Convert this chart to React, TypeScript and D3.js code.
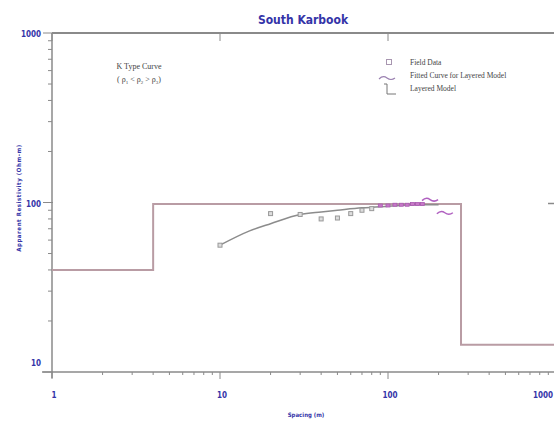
import React from "react";
import * as d3 from "d3";

// field data (spacing m, apparent resistivity ohm-m)
const fieldSpacing = [10, 20, 30, 40, 50, 60, 70, 80];
const fieldRho = [56, 86, 85, 80, 81, 86, 90, 92];

// magenta fitted points near the end of the curve
const fitMarkSpacing = [90, 100, 110, 120, 130, 140, 150, 160];
const fitMarkRho = [96, 96, 97, 97, 97, 98, 98, 98];
const squiggleSpacing = [178, 218];
const squiggleRho = [104, 87];

// fitted curve for layered model
const curveSpacing = [10, 15, 20, 30, 40, 50, 70, 100, 150, 200];
const curveRho = [56, 68, 75, 85, 88, 90, 93, 95, 97, 97];

// layered model: resistivities and layer boundaries
const layerRho = [40, 98, 14.5];
const layerDepth = [1, 4, 272, 1000];

const xTicks = [1, 10, 100, 1000];
const yTicks = [10, 100, 1000];

const W = 554;
const H = 424;
const blue = "#3434a8";
const axisGray = "#8a8a8a";
const modelColor = "#b99ca4";

export default function App() {
  const x = d3.scaleLog().domain([1, 1000]).range([52, 556]);
  const y = d3.scaleLog().domain([10, 1000]).range([372, 33]);

  // step line for the layered model
  const stepPts: [number, number][] = [];
  layerRho.forEach((r, i) => {
    stepPts.push([layerDepth[i], r]);
    stepPts.push([layerDepth[i + 1], r]);
  });
  const lineGen = d3
    .line<[number, number]>()
    .x((d) => x(d[0]))
    .y((d) => y(d[1]));

  const curveGen = d3
    .line<[number, number]>()
    .x((d) => x(d[0]))
    .y((d) => y(d[1]))
    .curve(d3.curveMonotoneX);
  const curvePts = curveSpacing.map((s, i) => [s, curveRho[i]] as [number, number]);

  // minor ticks for each decade
  const xMinor: number[] = [];
  const yMinor: number[] = [];
  [1, 10, 100].forEach((dec) => {
    for (let k = 2; k <= 9; k++) xMinor.push(dec * k);
  });
  [10, 100].forEach((dec) => {
    for (let k = 2; k <= 9; k++) yMinor.push(dec * k);
  });

  const tickFont = "'DejaVu Sans Condensed', 'DejaVu Sans', sans-serif";
  const serif = "'Liberation Serif', 'DejaVu Serif', serif";

  const tilde = (cx: number, cy: number, w: number) =>
    `M${cx - w / 2},${cy + 1} q${w / 4},-4 ${w / 2},-1 t${w / 2},0`;

  return (
    <svg
      width={W}
      height={H}
      style={{ position: "absolute", left: 0, top: 0, background: "#fff" }}
    >
      <defs>
        <clipPath id="plot">
          <rect x={52} y={30} width={W - 52} height={350} />
        </clipPath>
      </defs>

      {/* title */}
      <text
        x={303}
        y={24}
        textAnchor="middle"
        fill={blue}
        fontFamily={tickFont}
        fontWeight="bold"
        fontSize={12}
      >
        South Karbook
      </text>

      {/* frame: top border, left axis, bottom axis */}
      <line x1={52} x2={W} y1={y(1000)} y2={y(1000)} stroke={axisGray} strokeWidth={2} />
      <line x1={52} x2={52} y1={y(1000)} y2={378} stroke={axisGray} strokeWidth={1.5} />
      <line x1={42} x2={W} y1={y(10)} y2={y(10)} stroke={axisGray} strokeWidth={1.5} />

      {/* x ticks */}
      {xMinor.map((v) => (
        <line key={"xm" + v} x1={x(v)} x2={x(v)} y1={372} y2={375} stroke={axisGray} />
      ))}
      {xTicks.map((v) => (
        <g key={"xt" + v}>
          <line x1={x(v)} x2={x(v)} y1={372} y2={379} stroke={axisGray} />
          <line x1={x(v)} x2={x(v)} y1={y(1000)} y2={y(1000) + 8} stroke={axisGray} />
          <text
            x={x(v) > W ? W - 1 : x(v) + 2}
            y={398}
            textAnchor={x(v) > W ? "end" : "middle"}
            fill={blue}
            fontFamily={tickFont}
            fontWeight="bold"
            fontSize={8}
          >
            {v}
          </text>
        </g>
      ))}

      {/* y ticks */}
      {yMinor.map((v) => (
        <line key={"ym" + v} x1={48} x2={52} y1={y(v)} y2={y(v)} stroke={axisGray} />
      ))}
      {yTicks.map((v) => (
        <g key={"yt" + v}>
          <line x1={43} x2={53} y1={y(v)} y2={y(v)} stroke={axisGray} />
          <text
            x={41}
            y={v === 10 ? y(v) - 6 : y(v) + 4}
            textAnchor="end"
            fill={blue}
            fontFamily={tickFont}
            fontWeight="bold"
            fontSize={8}
          >
            {v}
          </text>
        </g>
      ))}
      <line x1={548} x2={554} y1={y(100) + 1} y2={y(100) + 1} stroke={axisGray} strokeWidth={1.5} />

      {/* axis titles */}
      <text
        transform={`translate(21,198) rotate(-90)`}
        textAnchor="middle"
        fill={blue}
        fontFamily={tickFont}
        fontWeight="bold"
        fontSize={6}
        letterSpacing={0.6}
      >
        Apparent Resistivity (Ohm-m)
      </text>
      <text
        x={306}
        y={417}
        textAnchor="middle"
        fill={blue}
        fontFamily={tickFont}
        fontWeight="bold"
        fontSize={6}
      >
        Spacing (m)
      </text>

      {/* annotation */}
      <text x={139} y={69} textAnchor="middle" fill="#444" fontFamily={serif} fontSize={8}>
        K Type Curve
      </text>
      <text x={139} y={82} textAnchor="middle" fill="#444" fontFamily={serif} fontSize={8}>
        ( ρ<tspan fontSize={5} dy={1.5}>1</tspan>
        <tspan dy={-1.5}> &lt; ρ</tspan>
        <tspan fontSize={5} dy={1.5}>2</tspan>
        <tspan dy={-1.5}> &gt; ρ</tspan>
        <tspan fontSize={5} dy={1.5}>3</tspan>
        <tspan dy={-1.5}>)</tspan>
      </text>

      {/* legend */}
      <rect x={386.5} y={59.5} width={5} height={5} fill="none" stroke="#a896b0" strokeWidth={1} />
      <path d={tilde(387, 78, 16)} fill="none" stroke="#9a80b0" strokeWidth={1.2} />
      <path d="M384,84 L387,84 L387,94 L396,94" fill="none" stroke="#777" strokeWidth={1} />
      <g fill="#444" fontFamily={serif} fontSize={7.5}>
        <text x={410} y={65}>Field Data</text>
        <text x={410} y={78}>Fitted Curve for Layered Model</text>
        <text x={410} y={91}>Layered Model</text>
      </g>

      <g clipPath="url(#plot)">
        {/* layered model */}
        <path d={lineGen(stepPts) ?? ""} fill="none" stroke={modelColor} strokeWidth={2} />

        {/* fitted curve */}
        <path d={curveGen(curvePts) ?? ""} fill="none" stroke="#8c8c8c" strokeWidth={1.5} />

        {/* field data */}
        {fieldSpacing.map((s, i) => (
          <rect
            key={"f" + i}
            x={x(s) - 2}
            y={y(fieldRho[i]) - 2}
            width={4}
            height={4}
            fill="#ddd"
            stroke="#999"
            strokeWidth={1}
          />
        ))}
        {fitMarkSpacing.map((s, i) => (
          <rect
            key={"m" + i}
            x={x(s) - 2}
            y={y(fitMarkRho[i]) - 1.5}
            width={4}
            height={3}
            fill="#c878c8"
            stroke="#a85ab0"
            strokeWidth={0.8}
          />
        ))}
        {squiggleSpacing.map((s, i) => (
          <path
            key={"s" + i}
            d={tilde(x(s), y(squiggleRho[i]), 16)}
            fill="none"
            stroke="#b060c0"
            strokeWidth={1.5}
          />
        ))}
      </g>
    </svg>
  );
}
